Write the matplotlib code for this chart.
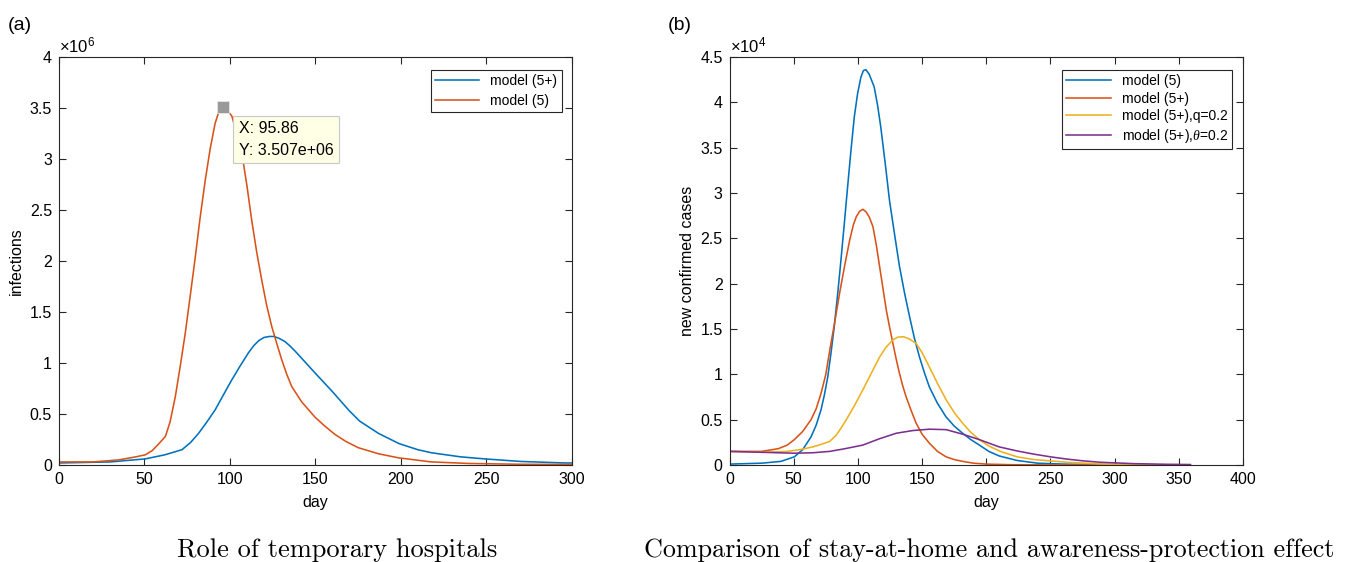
import numpy as np
import matplotlib
matplotlib.use('Agg')
import matplotlib.pyplot as plt
from matplotlib.ticker import FuncFormatter

plt.rcParams['font.family'] = ['Liberation Sans', 'DejaVu Sans']
plt.rcParams['mathtext.fontset'] = 'custom'
plt.rcParams['mathtext.rm'] = 'Liberation Sans'
plt.rcParams['mathtext.it'] = 'Liberation Serif:italic'

# MATLAB default colours
C_BLUE = '#0072BD'
C_ORANGE = '#D95319'
C_YELLOW = '#EDB120'
C_PURPLE = '#7E2F8E'
AX_COL = '#262626'

# ---------------- panel (a): infections ----------------
days_a_plus = [0, 30, 50.6, 62, 72, 77, 81.7, 86.5, 91.4, 96, 101, 106, 110.9, 114, 117, 120,
               123, 126, 129, 132.3, 135, 138, 141.3, 150, 160, 170, 176, 187, 199, 210, 218,
               235, 249, 270, 296, 300]
inf_a_plus = [0.02, 0.03, 0.06, 0.10, 0.15, 0.22, 0.31, 0.42, 0.54, 0.68, 0.83, 0.97, 1.10, 1.17, 1.22, 1.25,
              1.26, 1.26, 1.24, 1.21, 1.17, 1.12, 1.06, 0.90, 0.72, 0.53, 0.43, 0.31, 0.21, 0.15, 0.12,
              0.08, 0.06, 0.035, 0.02, 0.02]

days_a_5 = [0, 20, 35, 45, 50.6, 54.5, 58, 62.3, 65, 68.1, 71, 73.9, 77, 79.8, 82.5, 85.6,
            88.5, 91.4, 93.5, 95.86, 98, 101.2, 104, 107, 110, 112.8, 115.7, 118.7, 121.5,
            124.5, 127.5, 130.4, 133.3, 136.2, 142, 149.8, 155, 161.5, 168, 175.1, 187,
            198.8, 218, 240, 270, 300]
inf_a_5 = [0.03, 0.03, 0.05, 0.08, 0.10, 0.14, 0.20, 0.28, 0.42, 0.67, 0.97, 1.29, 1.68, 2.04, 2.41, 2.79,
           3.10, 3.35, 3.46, 3.507, 3.49, 3.42, 3.25, 3.06, 2.74, 2.40, 2.09, 1.81, 1.57,
           1.36, 1.19, 1.03, 0.89, 0.77, 0.62, 0.47, 0.39, 0.30, 0.23, 0.17, 0.11,
           0.07, 0.03, 0.015, 0.007, 0.005]

tip_x, tip_y = 95.86, 3.507e6

# ---------------- panel (b): new confirmed cases ----------------
days_b_5 = [0, 25, 40, 50.5, 57, 63.5, 67.5, 71.3, 74, 76.5, 79, 81.6, 84.2, 86.8, 89.4, 92,
            94.6, 97.2, 99.8, 102.4, 104.3, 106.2, 108.8, 112.7, 115.3, 117.8, 121.5, 124.6,
            128.5, 132.4, 136.3, 140.2, 144, 148, 152, 155.7, 162, 168.7, 175, 181.6, 188,
            194.6, 202, 210, 224, 240, 260, 300, 359]
new_b_5 = [0.01, 0.02, 0.04, 0.09, 0.17, 0.31, 0.44, 0.61, 0.78, 0.97, 1.23, 1.53, 1.88, 2.26, 2.66, 3.07,
           3.47, 3.84, 4.10, 4.28, 4.35, 4.36, 4.31, 4.17, 3.97, 3.73, 3.30, 2.92,
           2.55, 2.19, 1.90, 1.64, 1.40, 1.19, 1.01, 0.86, 0.68, 0.53, 0.43, 0.35, 0.28,
           0.22, 0.15, 0.10, 0.05, 0.02, 0.01, 0.003, 0.0]

days_b_plus = [0, 25, 38, 45, 50.5, 57, 63.5, 67.5, 71.3, 75, 78.5, 82, 85.8, 89.7, 93.6, 96.5,
               98.8, 101.5, 103.9, 106.5, 109, 111.7, 114.3, 116.9, 119.5, 122.1, 124.7, 127.3,
               129.8, 132.4, 135, 137.6, 141.5, 145.4, 150, 155.7, 162, 168.7, 175, 181.6, 190,
               199.7, 220, 260, 359]
new_b_plus = [0.15, 0.15, 0.18, 0.22, 0.28, 0.37, 0.50, 0.62, 0.79, 1.00, 1.30, 1.58, 1.90, 2.20, 2.48, 2.65,
              2.74, 2.80, 2.82, 2.79, 2.73, 2.63, 2.43, 2.19, 1.95, 1.71, 1.52, 1.34,
              1.17, 1.01, 0.87, 0.75, 0.60, 0.46, 0.34, 0.24, 0.15, 0.09, 0.06, 0.04, 0.02,
              0.01, 0.003, 0.0, 0.0]

days_b_q = [0, 26, 45, 55, 65, 72, 78, 83.2, 87, 91, 97.5, 103.9, 110, 116.9, 122, 127.3, 131,
            135.5, 140, 145.4, 150, 155.7, 162, 168.7, 175, 181.6, 188, 194.6, 202, 211, 224,
            237, 263, 290, 330, 359]
new_b_q = [0.15, 0.14, 0.15, 0.17, 0.20, 0.23, 0.26, 0.33, 0.41, 0.50, 0.66, 0.83, 1.00, 1.19, 1.30, 1.38, 1.41,
           1.415, 1.39, 1.34, 1.24, 1.08, 0.90, 0.72, 0.58, 0.46, 0.36, 0.28, 0.21, 0.15, 0.09,
           0.06, 0.03, 0.01, 0.003, 0.0]

days_b_theta = [0, 26, 50, 65, 78, 90, 103.9, 116.9, 129.8, 142.8, 155.7, 168.7, 181.6, 194.6,
                210, 224, 237, 250, 263, 276, 289, 315, 340, 359]
new_b_theta = [0.15, 0.14, 0.13, 0.135, 0.15, 0.18, 0.22, 0.29, 0.35, 0.38, 0.395, 0.39, 0.34, 0.28,
               0.20, 0.155, 0.12, 0.09, 0.065, 0.045, 0.03, 0.015, 0.008, 0.005]

fig = plt.figure(figsize=(13.49, 5.62), dpi=100)
ax1 = fig.add_axes([0.0437, 0.1726, 0.380, 0.726])
ax2 = fig.add_axes([0.5408, 0.1726, 0.3806, 0.726])


def style_axes(ax):
    for sp in ax.spines.values():
        sp.set_color(AX_COL)
        sp.set_linewidth(0.8)
    ax.tick_params(direction='in', top=True, right=True, length=5, width=0.8,
                   colors=AX_COL, labelcolor='black', labelsize=11.5, pad=5)


lw = 1.15
ax1.plot(days_a_plus, np.array(inf_a_plus) * 1e6, color=C_BLUE, lw=lw, label='model (5+)')
ax1.plot(days_a_5, np.array(inf_a_5) * 1e6, color=C_ORANGE, lw=lw, label='model (5)')
ax1.plot([tip_x], [tip_y], marker='s', ms=8, color='#999999', mec='#E6E6E6', mew=0.6, zorder=5)
ax1.annotate(f'X: {tip_x:.2f}\nY: {tip_y:.3e}',
             xy=(tip_x, tip_y), xytext=(16, -14), textcoords='offset pixels',
             ha='left', va='top', fontsize=11.5, linespacing=1.55,
             bbox=dict(boxstyle='square,pad=0.35', fc='#FFFFE6', ec='#C8C8C8', lw=0.8), zorder=6)
ax1.set_xlim(0, 300)
ax1.set_ylim(0, 4e6)
ax1.set_xticks(np.arange(0, 301, 50))
ax1.set_yticks(np.arange(0, 4.01e6, 0.5e6))
ax1.yaxis.set_major_formatter(FuncFormatter(lambda v, p: f'{v / 1e6:g}'))
ax1.set_xlabel('day', fontsize=11.5, labelpad=6)
ax1.set_ylabel('infections', fontsize=11.5)
ax1.text(0.0, 1.004, r'$\mathregular{\times10^{6}}$', transform=ax1.transAxes,
         ha='left', va='bottom', fontsize=12)
style_axes(ax1)
leg1 = ax1.legend(loc='upper right', bbox_to_anchor=(0.9805, 0.968), borderaxespad=0,
                  fancybox=False, edgecolor=AX_COL, fontsize=10, handlelength=3.2,
                  framealpha=1, labelspacing=0.4, borderpad=0.3)
leg1.get_frame().set_linewidth(0.8)

ax2.plot(days_b_5, np.array(new_b_5) * 1e4, color=C_BLUE, lw=lw, label='model (5)')
ax2.plot(days_b_plus, np.array(new_b_plus) * 1e4, color=C_ORANGE, lw=lw, label='model (5+)')
ax2.plot(days_b_q, np.array(new_b_q) * 1e4, color=C_YELLOW, lw=lw, label='model (5+),q=0.2')
ax2.plot(days_b_theta, np.array(new_b_theta) * 1e4, color=C_PURPLE, lw=lw,
         label=r'model (5+),$\it{\theta}$=0.2')
ax2.set_xlim(0, 400)
ax2.set_ylim(0, 4.5e4)
ax2.set_xticks(np.arange(0, 401, 50))
ax2.set_yticks(np.arange(0, 4.51e4, 0.5e4))
ax2.yaxis.set_major_formatter(FuncFormatter(lambda v, p: f'{v / 1e4:g}'))
ax2.set_xlabel('day', fontsize=11.5, labelpad=6)
ax2.set_ylabel('new confirmed cases', fontsize=11.5)
ax2.text(0.0, 1.004, r'$\mathregular{\times10^{4}}$', transform=ax2.transAxes,
         ha='left', va='bottom', fontsize=12)
style_axes(ax2)
leg2 = ax2.legend(loc='upper right', bbox_to_anchor=(1 - 11 / 514, 0.968), borderaxespad=0,
                  fancybox=False, edgecolor=AX_COL, fontsize=10, handlelength=3.2,
                  framealpha=1, labelspacing=0.25, borderpad=0.3)
leg2.get_frame().set_linewidth(0.8)

fig.text(0.006, 0.955, '(a)', fontsize=14, ha='left', va='center')
fig.text(0.495, 0.955, '(b)', fontsize=14, ha='left', va='center')

cap_font = ['cmr10', 'DejaVu Serif']
fig.text(0.25, 0.022, 'Role of temporary hospitals', family=cap_font,
         fontsize=19, ha='center', va='center')
fig.text(0.7335, 0.022, 'Comparison of stay-at-home and awareness-protection effect',
         family=cap_font, fontsize=18.8, ha='center', va='center')

fig.savefig('out.png', dpi=100)
